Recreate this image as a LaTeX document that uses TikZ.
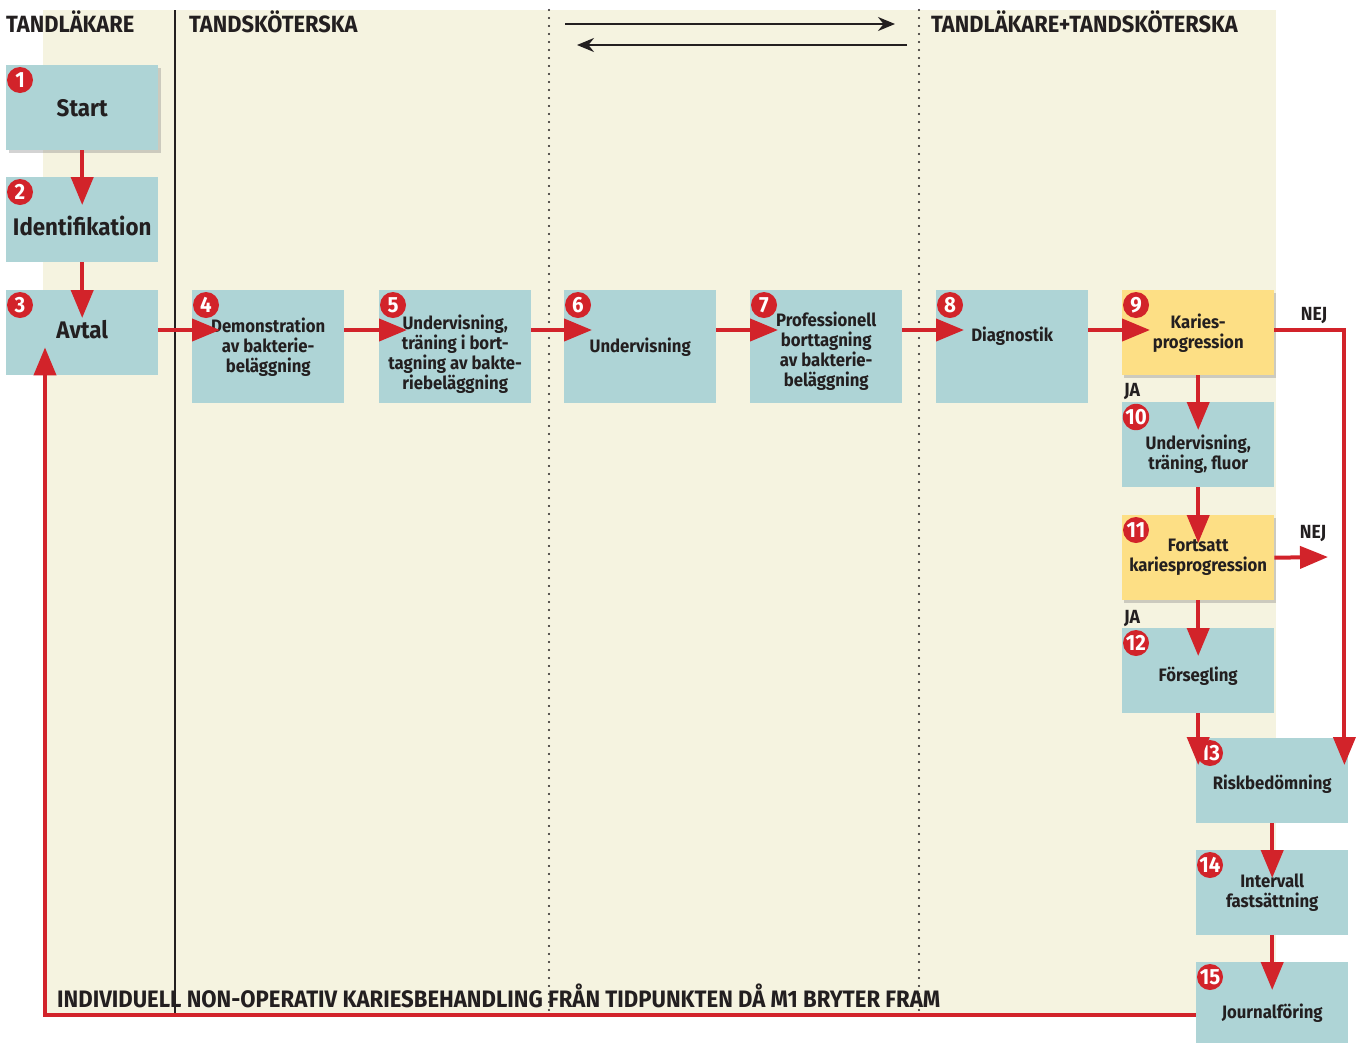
\documentclass[tikz,border=0pt]{standalone}
\usepackage{fontspec}
\setmainfont{Fira Sans}[FakeStretch=0.93]
\usetikzlibrary{arrows.meta,calc,shadows}

\definecolor{paper}{HTML}{F5F3E0}
\definecolor{boxteal}{HTML}{AED4D6}
\definecolor{decyellow}{HTML}{FDDF85}
\definecolor{flowred}{HTML}{D2232A}
\definecolor{ink}{HTML}{231F20}

\tikzset{
  step box/.style={rectangle, fill=boxteal, anchor=north west, align=center,
    minimum width=152pt, minimum height=85pt, inner sep=0pt, text=ink,
    font=\fontsize{18}{20}\selectfont\bfseries},
  tall box/.style={step box, minimum height=113pt},
  big text/.style={font=\fontsize{24}{26}\selectfont\bfseries},
  lower text/.style={text height=#1},
  raise text/.style={text depth=#1},
  decision/.style={step box, fill=decyellow,
    drop shadow={shadow xshift=2pt, shadow yshift=-3pt, opacity=0.35}},
  badge/.style={circle, fill=flowred, text=white, minimum size=26pt, inner sep=0pt,
    font=\fontsize{22}{22}\selectfont\bfseries},
  flow/.style={draw=flowred, line width=4pt, -{Triangle[length=28pt,width=22pt]}},
  swap/.style={draw=ink, line width=2pt, -{Stealth[length=17pt,width=14pt]}},
  lane/.style={draw=ink, line width=2.5pt},
  lanedot/.style={draw=ink, line width=2.4pt, line cap=round, dash pattern=on 0pt off 8pt},
  heading/.style={anchor=west, text=ink, inner sep=0pt, font=\fontsize{23.5}{25}\selectfont\bfseries},
  answer/.style={text=ink, inner sep=0pt, font=\fontsize{19}{21}\selectfont\bfseries}
}

\begin{document}
\begin{tikzpicture}[x=1pt, y=-1pt]
  \useasboundingbox (0,0) rectangle (1359,1042);
  % background and lanes
  \fill[paper] (43,10) rectangle (1276,1017);
  \draw[lane] (175,10) -- (175,1015);
  \draw[lanedot] (549,10) -- (549,1015);
  \draw[lanedot] (919,10) -- (919,1015);

  \node (hdA) [heading] at (6,22) {TANDLÄKARE};
  \node (hdB) [heading] at (189,22) {TANDSKÖTERSKA};
  \node (hdC) [heading] at (931,22) {TANDLÄKARE+TANDSKÖTERSKA};

  \coordinate (swapA) at (565,24);
  \coordinate (swapB) at (895,24);
  \coordinate (swapC) at (907,45);
  \coordinate (swapD) at (577,45);
  \draw[swap] (swapA) -- (swapB);
  \draw[swap] (swapC) -- (swapD);

  % steps
  \node (start) [step box, big text,
    drop shadow={shadow xshift=3pt, shadow yshift=-3pt, opacity=0.35}] at (6,65) {Start};
  \node (ident) [step box, big text, lower text=31pt] at (6,177) {Identifikation};
  \node (avtal) [step box, big text, raise text=6pt] at (6,290) {Avtal};
  \node (demo) [tall box] at (192,290) {Demonstration\\av bakterie-\\beläggning};
  \node (train) [tall box, lower text=89pt] at (379,290) {Undervisning,\\träning i bort-\\tagning av bakte-\\riebeläggning};
  \node (teach) [tall box] at (564,290) {Undervisning};
  \node (prof) [tall box, lower text=83pt] at (750,290) {Professionell\\borttagning\\av bakterie-\\beläggning};
  \node (diag) [tall box, raise text=25pt] at (936,290) {Diagnostik};
  \node (karies) [decision] at (1122,290) {Karies-\\progression};
  \node (fluor) [step box, lower text=53pt] at (1122,402) {Undervisning,\\träning, fluor};
  \node (fortsatt) [decision] at (1122,515) {Fortsatt\\kariesprogression};
  \node (forsegl) [step box, lower text=25pt] at (1122,628) {Försegling};
  \node (risk) [step box, lower text=21pt] at (1196,738) {Riskbedömning};
  \node (interv) [step box] at (1196,850) {Intervall\\fastsättning};
  \node (journal) [step box, lower text=31pt] at (1196,962) {Journalföring};

  \foreach \s/\n in {start/1, ident/2, avtal/3, demo/4, train/5, teach/6, prof/7,
      diag/8, karies/9, fluor/10, fortsatt/11, forsegl/12, risk/13, interv/14, journal/15}
    \node (badge\n) [badge] at ($(\s.north west)+(14,15)$) {\n};

  % flow
  \foreach \a/\b in {avtal/demo, demo/train, train/teach, teach/prof, prof/diag, diag/karies}
    \draw[flow] ($(\a.north east)+(0,40)$) -- ($(\b.north west)+(28,40)$);
  \foreach \a/\b in {start/ident, ident/avtal, karies/fluor, fluor/fortsatt,
      fortsatt/forsegl, risk/interv, interv/journal}
    \draw[flow] (\a.south) -- ($(\b.north)+(0,28)$);
  \draw[flow] (forsegl.south) -- ($(forsegl.south |- risk.north)+(0,27)$);
  \draw[flow] ($(karies.north east)+(0,40)$) -| ($(risk.north east)+(-4,27)$);
  \coordinate (nejend) at (1328,557);
  \draw[flow] (fortsatt.east) -- (nejend);
  \draw[flow] ($(journal.north west)+(0,53)$) -| ($(avtal.south west)+(39,-28)$);

  \node (nejA) [answer] at (1314,316) {NEJ};
  \node (nejB) [answer] at (1313,534) {NEJ};
  \node (jaA) [answer] at (1132,392) {JA};
  \node (jaB) [answer] at (1132,619) {JA};

  \node (caption) [heading, font=\fontsize{23.8}{25}\selectfont\bfseries] at (57,996)
    {INDIVIDUELL NON-OPERATIV KARIESBEHANDLING FRÅN TIDPUNKTEN DÅ M1 BRYTER FRAM};
\end{tikzpicture}
\end{document}
